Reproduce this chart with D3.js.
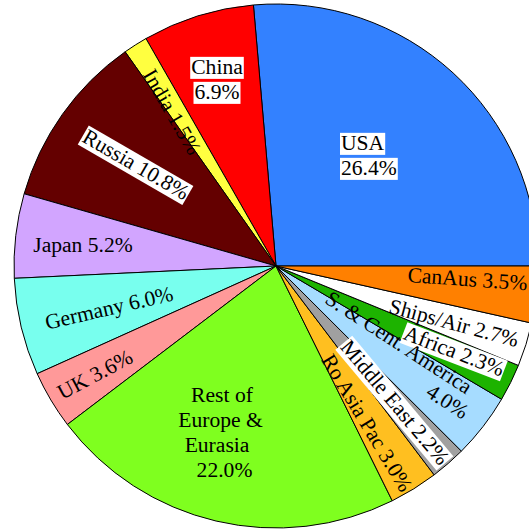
<!DOCTYPE html>
<html>
<head>
<meta charset="utf-8">
<script src="https://cdn.jsdelivr.net/npm/d3@7/dist/d3.min.js"></script>
<style>
html,body{margin:0;padding:0;background:#fff;overflow:hidden;}
svg{display:block;}
text{font-family:"Liberation Serif","Times New Roman",serif;fill:#000;}
</style>
</head>
<body>
<svg id="chart" width="529" height="530"></svg>
<script>
// ---- data ----
const categories = ["USA","China","India","Russia","Japan","Germany","UK",
  "Rest of|Europe &|Eurasia","Ro Asia Pac","Middle East","S. & Cent. America",
  "Africa","Ships/Air","CanAus"];
const values = [26.4,6.9,1.5,10.8,5.2,6.0,3.6,22.0,3.0,2.2,4.0,2.3,2.7,3.5];
const valueOnNewLine = [true,true,false,false,false,false,false,true,false,false,true,false,false,false];
const colors = ["#3381ff","#ff0000","#ffff40","#640000","#d2a5ff","#78ffee","#ff9999",
  "#7fff1f","#ffbf20","#a0a0a0","#a6dcff","#1db300","#ffffff","#ff8000"];

// ---- label layout (offsets from pie centre, rotation, anchor, white box) ----
const labelLayout = [
  {dx:65,   dy:-110.5, rot:0,   anchor:"start",  box:true},
  {dx:-59,  dy:-186.5, rot:0,   anchor:"middle", box:true},
  {dx:-104, dy:-154,   rot:60,  anchor:"middle", box:false},
  {dx:-140, dy:-101.5, rot:30,  anchor:"middle", box:true},
  {dx:-193, dy:-21.3,  rot:0,   anchor:"middle", box:false},
  {dx:-167, dy:42,     rot:-13, anchor:"middle", box:false},
  {dx:-181, dy:108.5,  rot:-28, anchor:"middle", box:false},
  {dx:-55,  dy:166.5,  rot:0,   anchor:"middle", box:false, lineShift:[[1,0],[-0.5,0],[-4,0],[3.5,0]]},
  {dx:91,   dy:157,    rot:59,  anchor:"middle", box:false},
  {dx:119,  dy:136.5,  rot:50,  anchor:"middle", box:true},
  {dx:116,  dy:87,     rot:33,  anchor:"middle", box:false, lineShift:[[0,0],[73,-2]]},
  {dx:178,  dy:85,     rot:21,  anchor:"middle", box:true},
  {dx:178,  dy:57,     rot:15,  anchor:"middle", box:false},
  {dx:191.5,dy:13,     rot:4,   anchor:"middle", box:false}
];

const cx = 276, cy = 266, R = 262;
const fontSize = 21.6, lineH = 25;

const svg = d3.select("#chart");
const g = svg.append("g").attr("transform", `translate(${cx},${cy})`);

const pie = d3.pie().sort(null).value(d => d)
  .startAngle(Math.PI/2).endAngle(Math.PI/2 - 2*Math.PI);
const arcs = pie(values);
const arc = d3.arc().innerRadius(0).outerRadius(R);

g.selectAll("path.slice").data(arcs).join("path")
  .attr("class","slice")
  .attr("d", arc)
  .attr("fill", (d,i) => colors[i])
  .attr("stroke", "#000")
  .attr("stroke-width", 1)
  .attr("stroke-linejoin","round");

const boxLayer = g.append("g");
const textLayer = g.append("g");

// labels
arcs.forEach((a, i) => {
  const L = labelLayout[i];
  const names = categories[i].split("|");
  const pct = values[i].toFixed(1) + "%";
  let lines;
  if (valueOnNewLine[i]) lines = names.concat([pct]);
  else { lines = names.slice(); lines[lines.length-1] += " " + pct; }
  const n = lines.length;
  const tf = `translate(${L.dx},${L.dy}) rotate(${L.rot})`;
  const bg = boxLayer.append("g").attr("transform", tf);
  const lg = textLayer.append("g").attr("transform", tf);
  lines.forEach((t, j) => {
    const shift = L.lineShift ? L.lineShift[j] : [0,0];
    const y = (j - (n-1)/2) * lineH + 0.33*fontSize + shift[1];
    const x = shift[0];
    const txt = lg.append("text")
      .attr("x", x).attr("y", y)
      .attr("text-anchor", L.anchor)
      .attr("font-size", fontSize)
      .text(t);
    if (L.box) {
      const w = txt.node().getComputedTextLength();
      let x0 = x;
      if (L.anchor === "middle") x0 = x - w/2;
      else if (L.anchor === "end") x0 = x - w;
      bg.append("rect").attr("x", x0 - 1).attr("width", w + 2)
        .attr("y", y - 0.8*fontSize).attr("height", 1.02*fontSize)
        .attr("fill", "#fff");
    }
  });
});
</script>
</body>
</html>
